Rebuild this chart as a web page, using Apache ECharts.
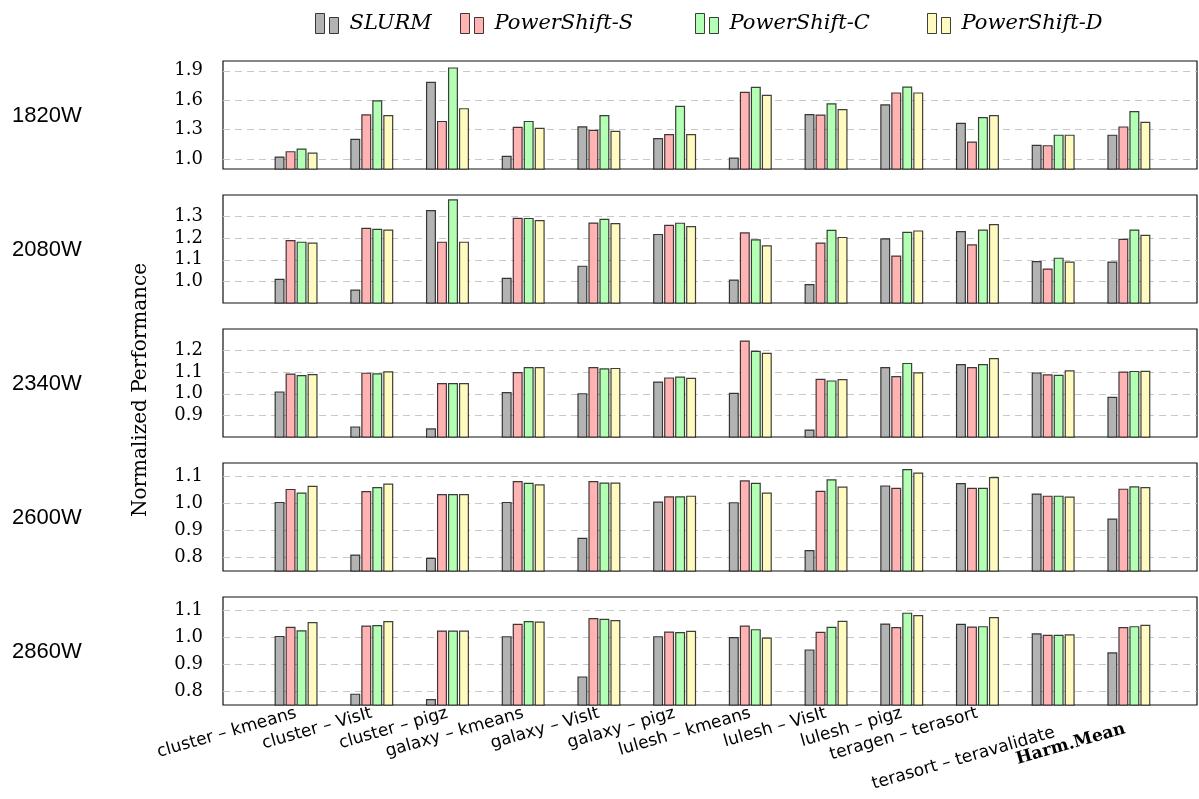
<!DOCTYPE html>
<html>
<head>
<meta charset="utf-8">
<script src="https://cdn.jsdelivr.net/npm/echarts@6/dist/echarts.min.js"></script>
<style>
  html, body { margin: 0; padding: 0; background: #fff; }
  #chart { width: 1199px; height: 799px; }
</style>
</head>
<body>
<div id="chart"></div>
<script>
// Workload pairs on the x axis
const categories = [
  'cluster – kmeans', 'cluster – VisIt', 'cluster – pigz',
  'galaxy – kmeans', 'galaxy – VisIt', 'galaxy – pigz',
  'lulesh – kmeans', 'lulesh – VisIt', 'lulesh – pigz',
  'teragen – terasort', 'terasort – teravalidate', 'Harm.Mean'
];
const seriesNames = ['SLURM', 'PowerShift-S', 'PowerShift-C', 'PowerShift-D'];
const powerCaps = ['1820W', '2080W', '2340W', '2600W', '2860W'];

// Normalized performance, 1820W cap
const slurm1820 = [1.027, 1.208, 1.788, 1.034, 1.335, 1.215, 1.017, 1.46, 1.56, 1.37, 1.147, 1.25];
const psS1820   = [1.082, 1.457, 1.39, 1.33, 1.30, 1.256, 1.686, 1.454, 1.68, 1.18, 1.143, 1.334];
const psC1820   = [1.109, 1.60, 1.935, 1.39, 1.45, 1.543, 1.737, 1.57, 1.74, 1.43, 1.25, 1.49];
const psD1820   = [1.068, 1.45, 1.52, 1.32, 1.29, 1.256, 1.655, 1.51, 1.68, 1.45, 1.25, 1.38];

// 2080W cap
const slurm2080 = [1.012, 0.962, 1.33, 1.017, 1.073, 1.22, 1.009, 0.988, 1.20, 1.233, 1.094, 1.092];
const psS2080   = [1.192, 1.248, 1.184, 1.295, 1.273, 1.262, 1.227, 1.18, 1.12, 1.172, 1.06, 1.197];
const psC2080   = [1.184, 1.244, 1.38, 1.294, 1.29, 1.272, 1.195, 1.239, 1.23, 1.24, 1.11, 1.24];
const psD2080   = [1.18, 1.24, 1.184, 1.284, 1.27, 1.256, 1.167, 1.206, 1.236, 1.266, 1.092, 1.216];

// 2340W cap
const slurm2340 = [1.011, 0.849, 0.84, 1.008, 1.003, 1.057, 1.005, 0.835, 1.124, 1.138, 1.099, 0.986];
const psS2340   = [1.094, 1.098, 1.05, 1.101, 1.124, 1.076, 1.247, 1.07, 1.082, 1.124, 1.09, 1.103];
const psC2340   = [1.087, 1.095, 1.05, 1.124, 1.118, 1.08, 1.199, 1.062, 1.143, 1.138, 1.088, 1.106];
const psD2340   = [1.092, 1.104, 1.05, 1.124, 1.12, 1.074, 1.19, 1.068, 1.10, 1.166, 1.109, 1.107];

// 2600W cap
const slurm2600 = [1.006, 0.811, 0.799, 1.006, 0.873, 1.007, 1.005, 0.828, 1.067, 1.076, 1.037, 0.944];
const psS2600   = [1.054, 1.046, 1.035, 1.083, 1.083, 1.027, 1.086, 1.047, 1.058, 1.058, 1.029, 1.055];
const psC2600   = [1.041, 1.061, 1.035, 1.077, 1.078, 1.027, 1.077, 1.090, 1.128, 1.058, 1.029, 1.064];
const psD2600   = [1.066, 1.074, 1.035, 1.071, 1.078, 1.029, 1.041, 1.063, 1.115, 1.098, 1.026, 1.061];

// 2860W cap
const slurm2860 = [1.006, 0.792, 0.772, 1.005, 0.856, 1.005, 1.002, 0.956, 1.052, 1.051, 1.016, 0.945];
const psS2860   = [1.040, 1.044, 1.026, 1.051, 1.072, 1.022, 1.044, 1.021, 1.039, 1.041, 1.010, 1.039];
const psC2860   = [1.027, 1.046, 1.026, 1.061, 1.069, 1.020, 1.031, 1.040, 1.092, 1.042, 1.010, 1.042];
const psD2860   = [1.057, 1.061, 1.026, 1.059, 1.065, 1.025, 1.000, 1.062, 1.083, 1.076, 1.012, 1.047];

// y tick labels per panel
const ticks1820 = [1.0, 1.3, 1.6, 1.9];
const ticks2080 = [1.0, 1.1, 1.2, 1.3];
const ticks2340 = [0.9, 1.0, 1.1, 1.2];
const ticks2600 = [0.8, 0.9, 1.0, 1.1];
const ticks2860 = [0.8, 0.9, 1.0, 1.1];

const panelData = [
  [slurm1820, psS1820, psC1820, psD1820],
  [slurm2080, psS2080, psC2080, psD2080],
  [slurm2340, psS2340, psC2340, psD2340],
  [slurm2600, psS2600, psC2600, psD2600],
  [slurm2860, psS2860, psC2860, psD2860]
];
const panelTicks = [ticks1820, ticks2080, ticks2340, ticks2600, ticks2860];
const panelRange = [[0.9, 2.0], [0.9, 1.4], [0.8, 1.3], [0.75, 1.15], [0.75, 1.15]];
const panelTop = [61, 195, 329, 463, 597];
const panelHeight = 108;

const fills = ['#b3b3b3', '#ffb3b3', '#b3ffb3', '#fffbc0'];
const outline = 'rgba(0,0,0,0.75)';
const serif = 'DejaVu Serif';
const plotLeft = 223, plotRight = 2;
// category positions 0..11 sit inside padded x limits
const xMin = -0.965, xMax = 11.9;

// label slots: one per category, plus blank slots at both ends of the axis
// so the automatic first/last-label thinning never touches a real name
const labelSlots = [-0.9].concat(categories.map(function (c, i) { return i; }), [11.85]);

// the two rightmost tick labels sit a little lower than the rest
const labelStyleKey = function (name) {
  if (name === 'Harm.Mean') return 'hm';
  if (name === 'terasort – teravalidate') return 'low';
  return 'n';
};

const grids = [], xAxes = [], yAxes = [], series = [], graphics = [];
panelData.forEach(function (rows, p) {
  const last = p === panelData.length - 1;
  grids.push({
    left: plotLeft, right: plotRight, top: panelTop[p], height: panelHeight,
    show: true, borderColor: '#111', borderWidth: 1.2, backgroundColor: 'transparent'
  });
  xAxes.push({
    type: 'value', gridIndex: p, min: xMin, max: xMax,
    axisLine: { show: false }, axisTick: { show: false }, splitLine: { show: false },
    axisLabel: last ? {
      show: true, hideOverlap: false,
      customValues: labelSlots,
      rotate: 16, margin: 8,
      fontFamily: 'DejaVu Sans', fontSize: 17, color: '#000',
      formatter: function (v) {
        const name = Number.isInteger(v) ? categories[v] : undefined;
        if (!name) return '';
        return '{' + labelStyleKey(name) + '|' + name + '}';
      },
      rich: {
        n: { fontFamily: 'DejaVu Sans', fontSize: 17, color: '#000' },
        low: { fontFamily: 'DejaVu Sans', fontSize: 17, color: '#000', padding: [38, 4, 0, 0] },
        hm: { fontFamily: serif, fontWeight: 'bold', fontSize: 17, color: '#000', padding: [28, 8, 0, 0] }
      }
    } : { show: false }
  });
  yAxes.push({
    type: 'value', gridIndex: p, min: panelRange[p][0], max: panelRange[p][1],
    axisLine: { show: false },
    axisTick: { show: false, customValues: panelTicks[p] },
    axisLabel: {
      customValues: panelTicks[p], margin: 20, showMinLabel: true, showMaxLabel: true,
      fontFamily: serif, fontSize: 18, color: '#000',
      formatter: function (v) { return v.toFixed(1); }
    },
    splitLine: { show: true, lineStyle: { color: '#c8c8c8', type: [7, 5], width: 1 } }
  });
  rows.forEach(function (vals, s) {
    series.push({
      type: 'bar', name: seriesNames[s], xAxisIndex: p, yAxisIndex: p,
      barWidth: 10, barGap: '10%',
      itemStyle: { color: fills[s], borderColor: outline, borderWidth: 1.2 },
      emphasis: { disabled: true },
      data: vals.map(function (v, i) { return [i, v]; })
    });
  });
  graphics.push({
    type: 'text', left: 12, top: panelTop[p] + panelHeight / 2 - 10,
    style: { text: powerCaps[p], fontFamily: 'Liberation Sans', fontSize: 22, fill: '#000' }
  });
});

graphics.push({
  type: 'text', x: 141, y: 390, rotation: Math.PI / 2,
  style: {
    text: 'Normalized Performance', fontFamily: serif, fontSize: 20,
    fill: '#000', align: 'center', verticalAlign: 'middle'
  }
});

// one legend block per series so each entry keeps its own position
const legendLeft = [310, 455, 690, 922];
const legends = seriesNames.map(function (n, s) {
  return {
    top: 8, left: legendLeft[s], itemWidth: 23, itemHeight: 20,
    data: [{ name: n, icon: 'path://M0,0h9v20h-9z M14,4h9v16h-9z' }],
    textStyle: {
      fontFamily: serif, fontStyle: 'italic', fontSize: 21, color: '#000',
      padding: [0, 0, 0, 6]
    },
    itemStyle: { borderColor: outline, borderWidth: 1 }
  };
});

const chart = echarts.init(document.getElementById('chart'), null, { renderer: 'canvas' });
chart.setOption({
  animation: false,
  backgroundColor: '#fff',
  legend: legends,
  grid: grids,
  xAxis: xAxes,
  yAxis: yAxes,
  series: series,
  graphic: graphics
});
</script>
</body>
</html>
